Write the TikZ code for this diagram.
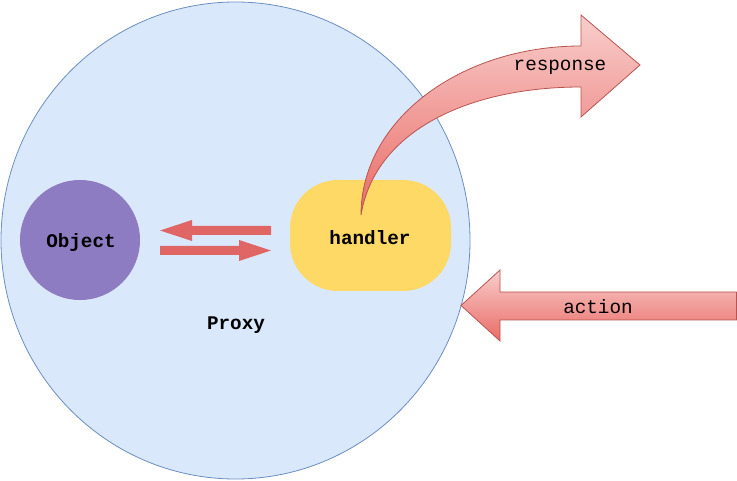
\documentclass[tikz,border=0pt]{standalone}
\usepackage{fontspec}
\usetikzlibrary{shapes.geometric}
\setmonofont{Liberation Mono}
\definecolor{proxyfill}{HTML}{DAE8FC}
\definecolor{proxyline}{HTML}{6C8EBF}
\definecolor{objfill}{HTML}{8E7CC3}
\definecolor{handfill}{HTML}{FFD966}
\definecolor{smallarrow}{HTML}{E06666}
\definecolor{gradtop}{HTML}{F8CECC}
\definecolor{gradbot}{HTML}{EA6B66}
\definecolor{arrline}{HTML}{B85450}
\begin{document}
\begin{tikzpicture}[x=1pt,y=-1pt,
  lbl/.style={font=\ttfamily\fontsize{19.3}{22}\selectfont, inner sep=0pt},
  blbl/.style={lbl, font=\ttfamily\bfseries\fontsize{19.3}{22}\selectfont},
  bigarrow/.style={draw=arrline, line width=0.8pt, top color=gradtop, bottom color=gradbot},
  smallarr/.style={fill=smallarrow}]
\useasboundingbox (0,0) rectangle (737,481);
% Proxy ellipse
\node[draw=proxyline, fill=proxyfill, line width=0.8pt, shape=ellipse,
  minimum width=469pt, minimum height=477pt, inner sep=0pt] (proxy) at (235.5,240.5) {};
% Object
\node[fill=objfill, circle, minimum size=120pt, inner sep=0pt] (object) at (80,240) {};
\node[blbl] (objlbl) at (81,243) {Object};
% handler
\node[fill=handfill, rounded corners=48pt, minimum width=161pt, minimum height=111pt, inner sep=0pt] (handler) at (370.5,235.5) {};
\node[blbl] (handlbl) at (370,238) {handler};
% Proxy label
\node[blbl] (proxylbl) at (236,325) {Proxy};
% small arrows
\fill[smallarr] (271,226) -- (192,226) -- (192,220) -- (160,230.5) -- (192,241) -- (192,235) -- (271,235) -- cycle;
\fill[smallarr] (160,246) -- (239,246) -- (239,240) -- (271,250.5) -- (239,261) -- (239,255) -- (160,255) -- cycle;
% response curved arrow
\coordinate (rstart) at (361,215);
\path[bigarrow] (rstart) .. controls (361,120) and (460,46) .. (581,46)
  -- (581,15) -- (640,65) -- (581,117) -- (581,87)
  .. controls (470,87) and (375,130) .. (rstart) -- cycle;
\node[lbl] (resplbl) at (560,67) {response};
% action arrow
\path[bigarrow] (736.6,292) -- (500,292) -- (500,270) -- (461,305.5) -- (500,341) -- (500,320) -- (736.6,320) -- cycle;
\node[lbl] (actlbl) at (598,307) {action};
\end{tikzpicture}
\end{document}
